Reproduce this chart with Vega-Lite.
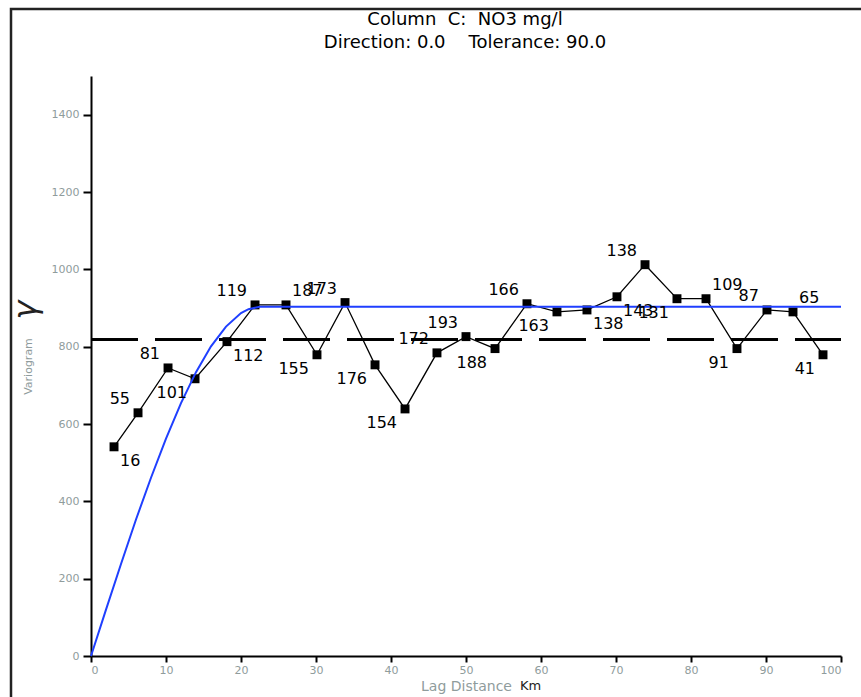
{
  "$schema": "https://vega.github.io/schema/vega-lite/v6.json",
  "width": 850,
  "height": 688,
  "autosize": {"type": "none"},
  "padding": {"left": 11, "top": 9, "right": 0, "bottom": 0},
  "config": {
    "view": {"stroke": "#222", "strokeWidth": 2.5, "strokeDash": [850, 1538, 688, 10]},
    "font": "DejaVu Sans"
  },
  "title": {
    "text": ["Column\u00a0\u00a0C:\u00a0\u00a0NO3\u00a0mg/l", "Direction:\u00a00.0\u00a0\u00a0\u00a0\u00a0Tolerance:\u00a090.0"],
    "fontSize": 18,
    "fontWeight": "normal",
    "color": "black",
    "anchor": "middle",
    "frame": "group",
    "orient": "top",
    "dx": 29,
    "offset": -43,
    "lineHeight": 23
  },
  "datasets": {
    "pts": [
      {"lag": 3.07, "gamma": 541, "pairs": "16", "side": "dr"},
      {"lag": 6.27, "gamma": 629, "pairs": "55", "side": "ul"},
      {"lag": 10.27, "gamma": 745, "pairs": "81", "side": "ul"},
      {"lag": 13.87, "gamma": 717, "pairs": "101", "side": "dl"},
      {"lag": 18.13, "gamma": 813, "pairs": "112", "side": "dr"},
      {"lag": 21.87, "gamma": 908, "pairs": "119", "side": "ul"},
      {"lag": 26.0, "gamma": 908, "pairs": "187", "side": "ur"},
      {"lag": 30.13, "gamma": 779, "pairs": "155", "side": "dl"},
      {"lag": 33.87, "gamma": 914, "pairs": "173", "side": "ul"},
      {"lag": 37.87, "gamma": 753, "pairs": "176", "side": "dl"},
      {"lag": 41.87, "gamma": 639, "pairs": "154", "side": "dl"},
      {"lag": 46.13, "gamma": 784, "pairs": "172", "side": "ul"},
      {"lag": 50.0, "gamma": 826, "pairs": "193", "side": "ul"},
      {"lag": 53.87, "gamma": 795, "pairs": "188", "side": "dl"},
      {"lag": 58.13, "gamma": 911, "pairs": "166", "side": "ul"},
      {"lag": 62.13, "gamma": 890, "pairs": "163", "side": "dl"},
      {"lag": 66.13, "gamma": 895, "pairs": "138", "side": "dr"},
      {"lag": 70.13, "gamma": 929, "pairs": "143", "side": "dr"},
      {"lag": 73.87, "gamma": 1012, "pairs": "138", "side": "ul"},
      {"lag": 78.13, "gamma": 924, "pairs": "131", "side": "dl"},
      {"lag": 82.0, "gamma": 924, "pairs": "109", "side": "ur"},
      {"lag": 86.13, "gamma": 795, "pairs": "91", "side": "dl"},
      {"lag": 90.13, "gamma": 895, "pairs": "87", "side": "ul"},
      {"lag": 93.6, "gamma": 890, "pairs": "65", "side": "ur"},
      {"lag": 97.6, "gamma": 779, "pairs": "41", "side": "dl"}
    ],
    "model": [
      {"lag": 0, "gamma": 0},
      {"lag": 2, "gamma": 120},
      {"lag": 4, "gamma": 238},
      {"lag": 6, "gamma": 353},
      {"lag": 8, "gamma": 461},
      {"lag": 10, "gamma": 562},
      {"lag": 12, "gamma": 654},
      {"lag": 14, "gamma": 734},
      {"lag": 16, "gamma": 801},
      {"lag": 18, "gamma": 852},
      {"lag": 20, "gamma": 887},
      {"lag": 21, "gamma": 897},
      {"lag": 22.5, "gamma": 903},
      {"lag": 100, "gamma": 903}
    ],
    "notes": [
      {"lag": -8.7, "gamma": 895, "t": "γ"},
      {"lag": 58.6, "gamma": -77, "t": "Km"}
    ]
  },
  "layer": [
    {
      "data": {"name": "model"},
      "mark": {"type": "rule", "color": "black", "strokeWidth": 2, "strokeDash": [47, 17]},
      "encoding": {
        "x": {
          "datum": 0,
          "type": "quantitative",
          "scale": {"domain": [0, 100], "range": [80, 830], "nice": false, "zero": false},
          "axis": {
            "values": [0, 10, 20, 30, 40, 50, 60, 70, 80, 90, 100],
            "offset": -41,
            "grid": false,
            "domainColor": "black",
            "domainWidth": 2,
            "tickColor": "black",
            "tickWidth": 2,
            "tickSize": 6,
            "labelColor": "#8f9c9c",
            "labelFont": "DejaVu Sans",
            "labelFontSize": 11,
            "labelPadding": 2,
            "title": "Lag Distance",
            "titleColor": "#8f9c9c",
            "titleFont": "DejaVu Sans",
            "titleFontSize": 14,
            "titleFontWeight": "normal",
            "titlePadding": 4
          }
        },
        "x2": {"datum": 100},
        "y": {
          "datum": 818,
          "type": "quantitative",
          "scale": {"domain": [0, 1500], "range": [647, 67], "nice": false, "zero": false},
          "axis": {
            "values": [0, 200, 400, 600, 800, 1000, 1200, 1400],
            "format": "d",
            "offset": -80,
            "grid": false,
            "domainColor": "black",
            "domainWidth": 2,
            "tickColor": "black",
            "tickWidth": 2,
            "tickSize": 8,
            "labelColor": "#8f9c9c",
            "labelFont": "DejaVu Sans",
            "labelFontSize": 11,
            "labelPadding": 4,
            "title": "Variogram",
            "titleColor": "#8f9c9c",
            "titleFont": "DejaVu Sans",
            "titleFontSize": 11,
            "titleFontWeight": "normal",
            "titlePadding": 18
          }
        }
      }
    },
    {
      "data": {"name": "pts"},
      "mark": {"type": "line", "color": "black", "strokeWidth": 1.3},
      "encoding": {
        "x": {"field": "lag", "type": "quantitative"},
        "y": {"field": "gamma", "type": "quantitative"}
      }
    },
    {
      "data": {"name": "pts"},
      "mark": {"type": "point", "shape": "square", "filled": true, "color": "black", "size": 80, "opacity": 1},
      "encoding": {
        "x": {"field": "lag", "type": "quantitative"},
        "y": {"field": "gamma", "type": "quantitative"}
      }
    },
    {
      "data": {"name": "model"},
      "mark": {"type": "line", "color": "#1f3fff", "strokeWidth": 2},
      "encoding": {
        "x": {"field": "lag", "type": "quantitative"},
        "y": {"field": "gamma", "type": "quantitative"}
      }
    },
    {
      "data": {"name": "pts"},
      "transform": [{"filter": "datum.side === 'ul'"}],
      "mark": {"type": "text", "align": "right", "baseline": "middle", "dx": -8, "dy": -14, "fontSize": 16, "color": "black"},
      "encoding": {
        "x": {"field": "lag", "type": "quantitative"},
        "y": {"field": "gamma", "type": "quantitative"},
        "text": {"field": "pairs"}
      }
    },
    {
      "data": {"name": "pts"},
      "transform": [{"filter": "datum.side === 'dl'"}],
      "mark": {"type": "text", "align": "right", "baseline": "middle", "dx": -8, "dy": 14, "fontSize": 16, "color": "black"},
      "encoding": {
        "x": {"field": "lag", "type": "quantitative"},
        "y": {"field": "gamma", "type": "quantitative"},
        "text": {"field": "pairs"}
      }
    },
    {
      "data": {"name": "pts"},
      "transform": [{"filter": "datum.side === 'dr'"}],
      "mark": {"type": "text", "align": "left", "baseline": "middle", "dx": 6, "dy": 14, "fontSize": 16, "color": "black"},
      "encoding": {
        "x": {"field": "lag", "type": "quantitative"},
        "y": {"field": "gamma", "type": "quantitative"},
        "text": {"field": "pairs"}
      }
    },
    {
      "data": {"name": "pts"},
      "transform": [{"filter": "datum.side === 'ur'"}],
      "mark": {"type": "text", "align": "left", "baseline": "middle", "dx": 6, "dy": -14, "fontSize": 16, "color": "black"},
      "encoding": {
        "x": {"field": "lag", "type": "quantitative"},
        "y": {"field": "gamma", "type": "quantitative"},
        "text": {"field": "pairs"}
      }
    },
    {
      "data": {"name": "notes"},
      "transform": [{"filter": "datum.t === 'γ'"}],
      "mark": {"type": "text", "fontSize": 32, "fontStyle": "italic", "angle": 270, "color": "#222", "baseline": "middle", "align": "center"},
      "encoding": {
        "x": {"field": "lag", "type": "quantitative"},
        "y": {"field": "gamma", "type": "quantitative"},
        "text": {"field": "t"}
      }
    },
    {
      "data": {"name": "notes"},
      "transform": [{"filter": "datum.t === 'Km'"}],
      "mark": {"type": "text", "fontSize": 13, "color": "#222", "baseline": "middle", "align": "center"},
      "encoding": {
        "x": {"field": "lag", "type": "quantitative"},
        "y": {"field": "gamma", "type": "quantitative"},
        "text": {"field": "t"}
      }
    }
  ]
}
